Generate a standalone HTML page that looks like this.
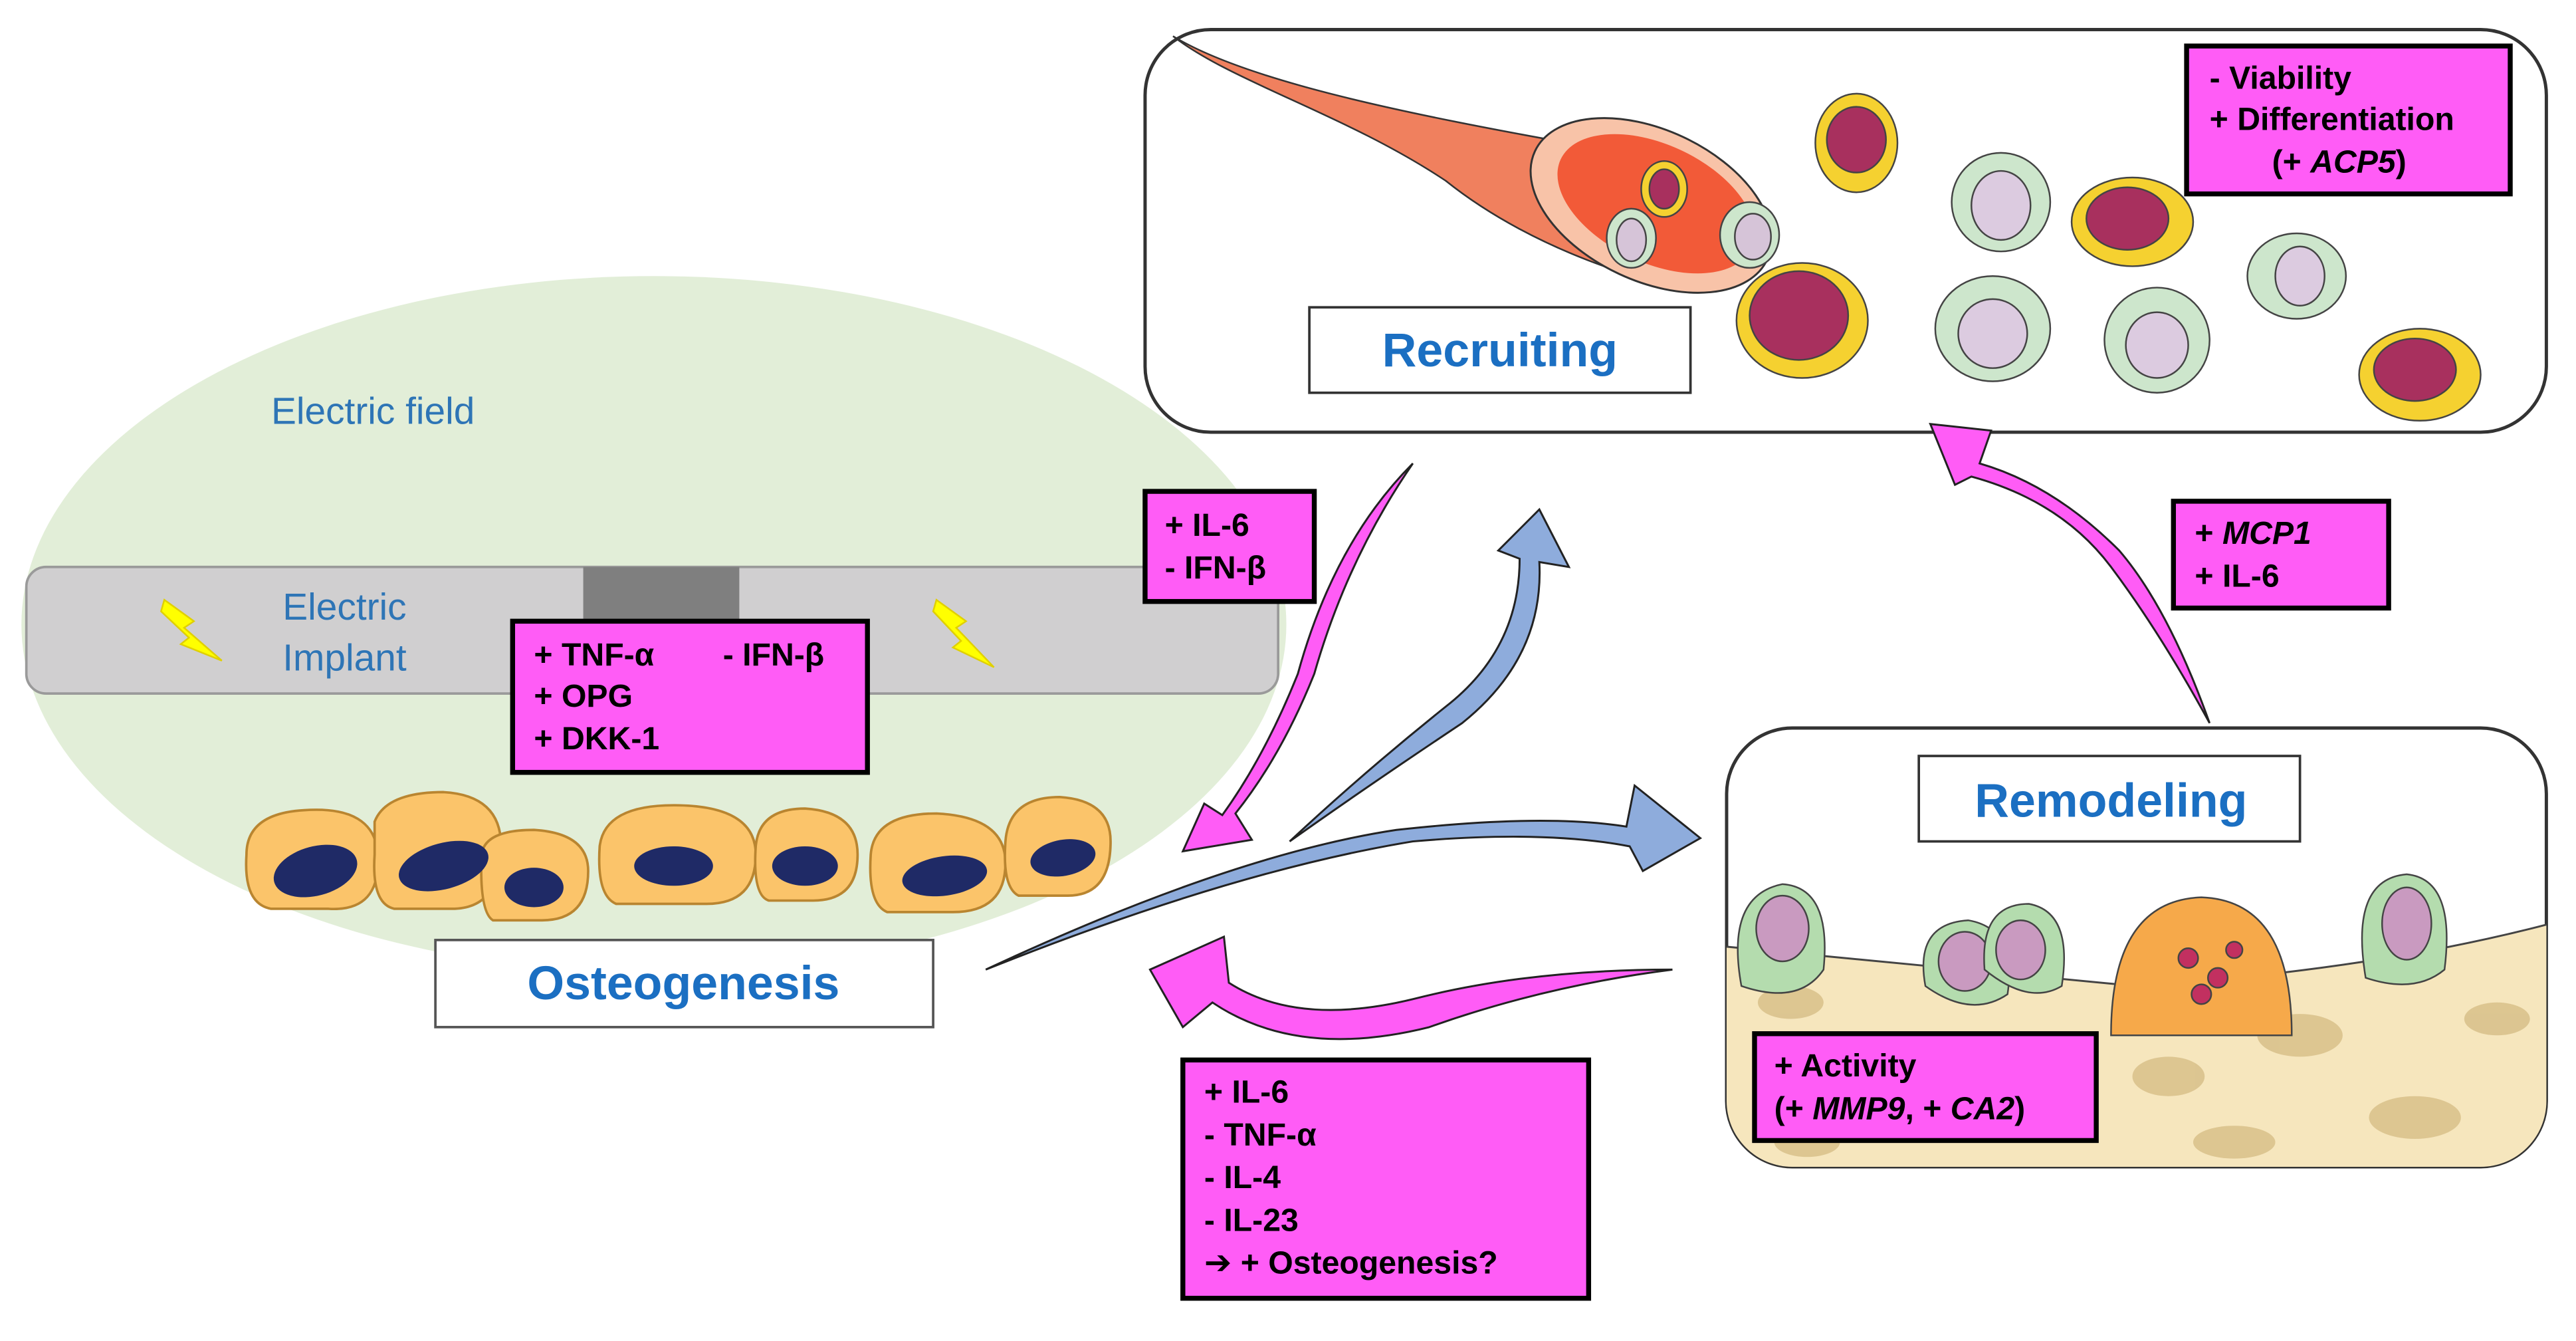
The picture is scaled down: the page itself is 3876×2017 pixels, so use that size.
<!DOCTYPE html>
<html><head><meta charset="utf-8"><style>
html,body{margin:0;padding:0;background:#fff}
svg{display:block}
text{font-family:"Liberation Sans",Arial,sans-serif}
.b{font-weight:bold;font-size:19.5px;fill:#000}
.lab{font-weight:bold;font-size:29px;fill:#1b6fc2}
.pk{fill:#ff5cf6;stroke:#000;stroke-width:3}
</style></head><body>
<svg width="3876" height="2017" viewBox="0 0 1568 816" xmlns="http://www.w3.org/2000/svg">
<defs>
<clipPath id="rc"><rect x="1051" y="443" width="499" height="267" rx="40"/></clipPath>
</defs>
<!-- electric field -->
<ellipse cx="398" cy="380" rx="385" ry="212" fill="#e2eed8"/>
<text x="165" y="258" font-size="23" fill="#2e75b6">Electric field</text>
<!-- implant -->
<rect x="16" y="345" width="762" height="77" rx="12" fill="#d0cfd0" stroke="#9a9a9a" stroke-width="1.5"/>
<rect x="355" y="345" width="95" height="33" fill="#7f7f7f"/>
<text x="172" y="377" font-size="23" fill="#2e75b6">Electric</text>
<text x="172" y="408" font-size="23" fill="#2e75b6">Implant</text>
<polygon points="100,365 118,378 112,382 135,402 110,392 115,388 98,372" fill="#ffff00" stroke="#e0d000" stroke-width="1"/>
<polygon points="570,365 588,378 582,382 605,406 580,394 585,390 568,372" fill="#ffff00" stroke="#e0d000" stroke-width="1"/>
<rect class="pk" x="312" y="378" width="216" height="92"/>
<text class="b" x="325" y="405">+ TNF-α</text>
<text class="b" x="440" y="405">- IFN-β</text>
<text class="b" x="325" y="430">+ OPG</text>
<text class="b" x="325" y="456">+ DKK-1</text>
<!-- osteoblasts -->
<g stroke="#b98530" stroke-width="1.5" fill="#fbc46a">
<path d="M150,520 Q150,495 185,493 Q228,490 230,520 Q232,555 200,553 L165,553 Q148,550 150,520Z"/>
<path d="M228,500 Q235,482 270,482 Q305,484 305,515 Q305,553 275,553 L240,553 Q226,550 228,520Z"/>
<path d="M293,522 Q293,505 325,505 Q358,507 358,530 Q358,560 330,560 L300,560 Q292,555 293,522Z"/>
<path d="M365,515 Q368,490 410,490 Q460,490 460,520 Q460,550 430,550 L375,550 Q363,545 365,515Z"/>
<path d="M460,515 Q462,492 490,492 Q522,494 522,520 Q522,548 495,548 L468,548 Q458,545 460,515Z"/>
<path d="M530,520 Q532,495 570,495 Q612,497 612,525 Q612,555 580,555 L540,555 Q528,550 530,520Z"/>
<path d="M612,512 Q614,485 645,485 Q676,487 676,512 Q676,545 650,545 L620,545 Q610,540 612,512Z"/>
</g>
<g fill="#1f2a66">
<ellipse cx="192" cy="530" rx="26" ry="15" transform="rotate(-15 192 530)"/>
<ellipse cx="270" cy="527" rx="28" ry="14" transform="rotate(-15 270 527)"/>
<ellipse cx="325" cy="540" rx="18" ry="12"/>
<ellipse cx="410" cy="527" rx="24" ry="12"/>
<ellipse cx="490" cy="527" rx="20" ry="12"/>
<ellipse cx="575" cy="533" rx="26" ry="12" transform="rotate(-8 575 533)"/>
<ellipse cx="647" cy="522" rx="20" ry="11" transform="rotate(-10 647 522)"/>
</g>
<rect x="265" y="572" width="303" height="53" fill="#fff" stroke="#555" stroke-width="1.5"/>
<text class="lab" x="416" y="608" text-anchor="middle">Osteogenesis</text>

<!-- recruiting panel -->
<rect x="697" y="18" width="853" height="245" rx="40" fill="#fff" stroke="#333" stroke-width="2"/>
<path d="M714,22 C760,50 860,70 960,88 L985,165 C940,150 905,130 880,110 C820,70 750,50 714,22Z" fill="#f0805e" stroke="#333" stroke-width="1"/>
<ellipse cx="1005" cy="125" rx="78" ry="46" transform="rotate(25 1005 125)" fill="#f8c3a8" stroke="#333" stroke-width="1.2"/>
<ellipse cx="1008" cy="124" rx="64" ry="36" transform="rotate(25 1008 124)" fill="#f25a38"/>
<g stroke="#444" stroke-width="1">
<ellipse cx="1013" cy="115" rx="14" ry="17" fill="#f5d130"/><ellipse cx="1013" cy="115" rx="9" ry="12" fill="#a8305e"/>
<ellipse cx="1130" cy="87" rx="25" ry="30" fill="#f5d130"/><ellipse cx="1130" cy="85" rx="18" ry="20" fill="#a8305e"/>
<ellipse cx="1298" cy="135" rx="37" ry="27" fill="#f5d130"/><ellipse cx="1295" cy="133" rx="25" ry="19" fill="#a8305e"/>
<ellipse cx="1097" cy="195" rx="40" ry="35" fill="#f5d130"/><ellipse cx="1095" cy="192" rx="30" ry="27" fill="#a8305e"/>
<ellipse cx="1473" cy="228" rx="37" ry="28" fill="#f5d130"/><ellipse cx="1470" cy="225" rx="25" ry="19" fill="#a8305e"/>
<ellipse cx="993" cy="145" rx="15" ry="18" fill="#cde6cc"/><ellipse cx="993" cy="146" rx="9" ry="13" fill="#d6c4d8"/>
<ellipse cx="1065" cy="143" rx="18" ry="20" fill="#cde6cc"/><ellipse cx="1067" cy="144" rx="11" ry="14" fill="#d6c4d8"/>
<ellipse cx="1218" cy="123" rx="30" ry="30" fill="#cde6cc"/><ellipse cx="1218" cy="125" rx="18" ry="21" fill="#dccbe0"/>
<ellipse cx="1213" cy="200" rx="35" ry="32" fill="#cde6cc"/><ellipse cx="1213" cy="203" rx="21" ry="21" fill="#dccbe0"/>
<ellipse cx="1313" cy="207" rx="32" ry="32" fill="#cde6cc"/><ellipse cx="1313" cy="210" rx="19" ry="20" fill="#dccbe0"/>
<ellipse cx="1398" cy="168" rx="30" ry="26" fill="#cde6cc"/><ellipse cx="1400" cy="168" rx="15" ry="18" fill="#dccbe0"/>
</g>
<rect x="797" y="187" width="232" height="52" fill="#fff" stroke="#333" stroke-width="1.5"/>
<text class="lab" x="913" y="223" text-anchor="middle">Recruiting</text>
<rect class="pk" x="1331" y="28" width="197" height="90"/>
<text class="b" x="1345" y="54">- Viability</text>
<text class="b" x="1345" y="79">+ Differentiation</text>
<text class="b" x="1383" y="105">(+ <tspan font-style="italic">ACP5</tspan>)</text>

<!-- remodeling panel -->
<rect x="1051" y="443" width="499" height="267" rx="40" fill="#fff" stroke="#333" stroke-width="2"/>
<g clip-path="url(#rc)">
<path d="M1040,575 Q1200,590 1300,600 Q1450,590 1560,560 L1560,720 L1040,720Z" fill="#f6e6bd" stroke="#444" stroke-width="1.2"/>
<g fill="#d8c08a" opacity="0.85">
<ellipse cx="1090" cy="610" rx="20" ry="10"/><ellipse cx="1150" cy="640" rx="25" ry="12"/>
<ellipse cx="1320" cy="655" rx="22" ry="12"/><ellipse cx="1400" cy="630" rx="26" ry="13"/>
<ellipse cx="1470" cy="680" rx="28" ry="13"/><ellipse cx="1520" cy="620" rx="20" ry="10"/>
<ellipse cx="1360" cy="695" rx="25" ry="10"/><ellipse cx="1100" cy="695" rx="20" ry="9"/>
</g>
</g>
<g stroke="#444" stroke-width="1">
<path d="M1060,600 Q1050,545 1085,538 Q1115,540 1110,590 Q1095,612 1060,600Z" fill="#b4dcae"/>
<ellipse cx="1085" cy="565" rx="16" ry="20" fill="#c99ac0"/>
<path d="M1172,600 Q1165,562 1198,560 Q1228,565 1222,605 Q1200,620 1172,600Z" fill="#b4dcae"/>
<ellipse cx="1196" cy="585" rx="16" ry="18" fill="#c99ac0"/>
<path d="M1208,590 Q1205,550 1235,550 Q1262,555 1255,600 Q1235,612 1208,590Z" fill="#b4dcae"/>
<ellipse cx="1230" cy="578" rx="15" ry="18" fill="#c99ac0"/>
<path d="M1440,595 Q1430,535 1465,532 Q1495,535 1488,590 Q1470,605 1440,595Z" fill="#b4dcae"/>
<ellipse cx="1465" cy="562" rx="15" ry="22" fill="#c99ac0"/>
<path d="M1285,630 Q1285,548 1340,546 Q1395,548 1395,630Z" fill="#f6a94a"/>
<circle cx="1332" cy="583" r="6" fill="#c23060"/><circle cx="1350" cy="595" r="6" fill="#c23060"/>
<circle cx="1340" cy="605" r="6" fill="#c23060"/><circle cx="1360" cy="578" r="5" fill="#c23060"/>
</g>
<rect x="1168" y="460" width="232" height="52" fill="#fff" stroke="#333" stroke-width="1.5"/>
<text class="lab" x="1285" y="497" text-anchor="middle">Remodeling</text>
<rect class="pk" x="1068" y="629" width="208" height="65"/>
<text class="b" x="1080" y="655">+ Activity</text>
<text class="b" x="1080" y="681">(+ <tspan font-style="italic">MMP9</tspan>, + <tspan font-style="italic">CA2</tspan>)</text>

<!-- arrows -->
<g stroke="#222" stroke-width="1.2">
<path d="M860,282 Q820,340 800,410 Q780,460 752,495 L762,511 L720,518 L733,489 L744,496 Q770,460 790,410 Q812,330 860,282Z" fill="#ff5cf6"/>
<path d="M785,512 Q830,470 880,430 Q925,395 925,340 L912,335 L937,310 L955,345 L937,342 Q940,400 890,440 Q830,480 785,512Z" fill="#8eacdc"/>
<path d="M600,590 Q750,520 850,505 Q940,495 990,503 L995,478 L1035,510 L1000,530 L992,515 Q940,505 860,512 Q750,530 600,590Z" fill="#8eacdc"/>
<path d="M1018,590 Q930,590 860,608 Q790,625 748,598 L745,570 L700,590 L720,625 L738,610 Q790,645 870,625 Q940,600 1018,590Z" fill="#ff5cf6"/>
<path d="M1345,440 Q1320,370 1290,335 Q1250,295 1205,282 L1212,262 L1175,258 L1190,295 L1200,290 Q1255,305 1285,345 Q1315,385 1345,440Z" fill="#ff5cf6"/>
</g>

<rect class="pk" x="697" y="299" width="103" height="67"/>
<text class="b" x="709" y="326">+ IL-6</text>
<text class="b" x="709" y="352">- IFN-β</text>
<rect class="pk" x="1323" y="305" width="131" height="65"/>
<text class="b" x="1336" y="331">+ <tspan font-style="italic">MCP1</tspan></text>
<text class="b" x="1336" y="357">+ IL-6</text>
<rect class="pk" x="720" y="645" width="247" height="145"/>
<text class="b" x="733" y="671">+ IL-6</text>
<text class="b" x="733" y="697">- TNF-α</text>
<text class="b" x="733" y="723">- IL-4</text>
<text class="b" x="733" y="749">- IL-23</text>
<text class="b" x="733" y="775"><tspan font-family="DejaVu Sans" font-size="20">➔</tspan> + Osteogenesis?</text>
</svg>
</body></html>
